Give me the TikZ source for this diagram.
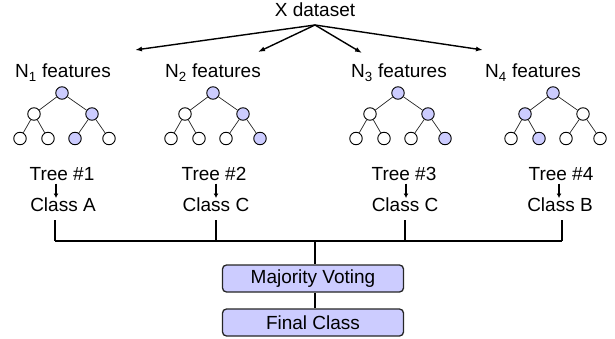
\documentclass[tikz,border=0pt]{standalone}
\usepackage{fontspec}
\setmainfont{Liberation Sans}
\usetikzlibrary{arrows.meta,calc}
\definecolor{lav}{HTML}{CCCCFF}
\begin{document}
\begin{tikzpicture}[x=1pt,y=-1pt,
  lab/.style={font=\fontsize{19}{22}\selectfont, inner sep=0pt, anchor=base},
  tn/.style={circle, draw=black, line width=0.9pt, minimum size=12.5pt, inner sep=0pt},
  edge/.style={line width=0.7pt, draw=black!85},
  ln/.style={line width=1.4pt},
  bigarr/.style={line width=1.4pt, -{Latex[length=7pt,width=5pt]}},
  smallarr/.style={line width=1.6pt, -{Latex[length=4.5pt,width=5pt]}},
  vote/.style={draw=black!85, line width=1.3pt, rounded corners=4pt, fill=lav,
    minimum width=181pt, minimum height=27pt, inner sep=0pt,
    font=\fontsize{19}{22}\selectfont}]
\useasboundingbox (0,0) rectangle (615,339);

% dataset and its split into four feature subsets
\node[lab] (xd) at (315,17) {X dataset};
\coordinate (split) at (315,25);
\coordinate (e1) at (135,50);
\coordinate (e2) at (258,52);
\coordinate (e3) at (362,53);
\coordinate (e4) at (483,50);
\foreach \k in {1,...,4} \draw[bigarr] (split) -- (e\k);

\node[lab] (n1) at (63,78)  {N\textsubscript{1} features};
\node[lab] (n2) at (213,78) {N\textsubscript{2} features};
\node[lab] (n3) at (399,78) {N\textsubscript{3} features};
\node[lab] (n4) at (533,78) {N\textsubscript{4} features};

% decision trees: root, two children, four leaves
\foreach \k/\x/\fr/\fa/\fb/\fc/\fd/\fe/\ff in {
    1/62/lav/white/lav/white/white/lav/white,
    2/213/lav/white/lav/white/white/white/lav,
    3/398/lav/white/lav/white/white/white/lav,
    4/553/lav/lav/white/white/lav/white/white} {
  \node[tn, fill=\fr] (t\k r)  at (\x,93) {};
  \node[tn, fill=\fa] (t\k a)  at (\x-28,114) {};
  \node[tn, fill=\fb] (t\k b)  at (\x+30,114) {};
  \node[tn, fill=\fc] (t\k aa) at (\x-42,138.5) {};
  \node[tn, fill=\fd] (t\k ab) at (\x-14,138.5) {};
  \node[tn, fill=\fe] (t\k ba) at (\x+13,138.5) {};
  \node[tn, fill=\ff] (t\k bb) at (\x+47,138.5) {};
  \draw[edge] (t\k r) -- (t\k a);
  \draw[edge] (t\k r) -- (t\k b);
  \draw[edge] (t\k a) -- (t\k aa);
  \draw[edge] (t\k a) -- (t\k ab);
  \draw[edge] (t\k b) -- (t\k ba);
  \draw[edge] (t\k b) -- (t\k bb);
}

% per-tree predictions
\node[lab] (tl1) at (62,181)  {Tree \#1};
\node[lab] (tl2) at (214,181) {Tree \#2};
\node[lab] (tl3) at (404,181) {Tree \#3};
\node[lab] (tl4) at (561,181) {Tree \#4};
\node[lab] (cl1) at (63,211)  {Class A};
\node[lab] (cl2) at (216,211) {Class C};
\node[lab] (cl3) at (405,211) {Class C};
\node[lab] (cl4) at (560,211) {Class B};

% collecting bus
\coordinate (b1) at (55,241);
\coordinate (b2) at (216,241);
\coordinate (b3) at (405,241);
\coordinate (b4) at (562,241);
\coordinate (bc) at (315,241);
\foreach \k/\ax in {1/56,2/216,3/406,4/559} {
  \draw[smallarr] ($(tl\k.base -| \ax,0)+(0,2.5)$) -- ($(cl\k.base -| \ax,0)+(0,-13)$);
  \draw[ln] ($(cl\k.base -| b\k)+(0,9)$) -- (b\k);
}
\draw[ln] (b1) -- (b4);

% voting and result
\node[vote] (mv) at (313,278.5) {Majority Voting};
\node[vote] (fc) at (313,322.5) {Final Class};
\draw[ln] (bc) -- (bc |- mv.north);
\draw[ln] (bc |- mv.south) -- (bc |- fc.north);
\end{tikzpicture}
\end{document}
